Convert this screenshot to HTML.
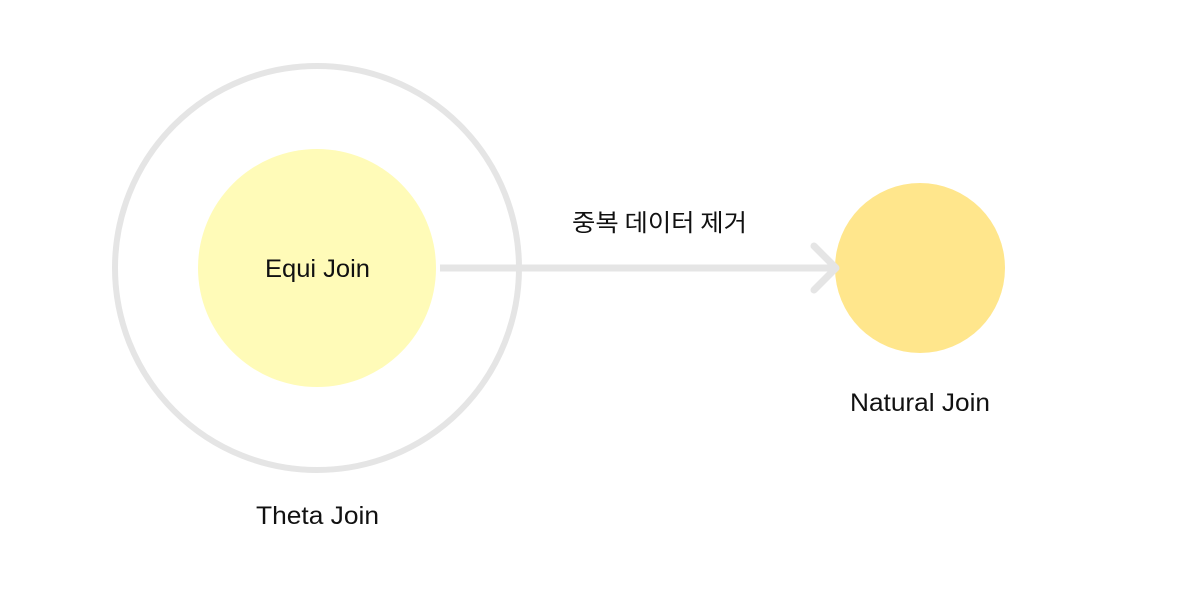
<!DOCTYPE html>
<html><head><meta charset="utf-8"><style>body{margin:0;background:#fff}</style></head>
<body>
<svg width="1183" height="594" viewBox="0 0 1183 594" xmlns="http://www.w3.org/2000/svg">
<rect width="1183" height="594" fill="#fff"/>
<circle cx="317" cy="268" r="202" fill="none" stroke="#e5e5e5" stroke-width="6"/>
<circle cx="317" cy="268" r="119" fill="#fffbb8"/>
<circle cx="920" cy="268" r="85" fill="#ffe68c"/>
<line x1="440" y1="268" x2="834" y2="268" stroke="#e5e5e5" stroke-width="7"/>
<polyline points="814,246 836,268 814,290" fill="none" stroke="#e5e5e5" stroke-width="7" stroke-linecap="round" stroke-linejoin="round"/>
<g font-family="Liberation Sans, NanumGothic, sans-serif" font-size="25" fill="#111">
<text x="265" y="277" textLength="105" lengthAdjust="spacingAndGlyphs">Equi Join</text>
<text x="572" y="231" font-family="Noto Sans CJK KR, NanumGothic, sans-serif" font-size="24" textLength="175" lengthAdjust="spacingAndGlyphs">중복 데이터 제거</text>
<text x="850" y="411" textLength="140" lengthAdjust="spacingAndGlyphs">Natural Join</text>
<text x="256" y="524" textLength="123" lengthAdjust="spacingAndGlyphs">Theta Join</text>
</g>
</svg>
</body></html>
